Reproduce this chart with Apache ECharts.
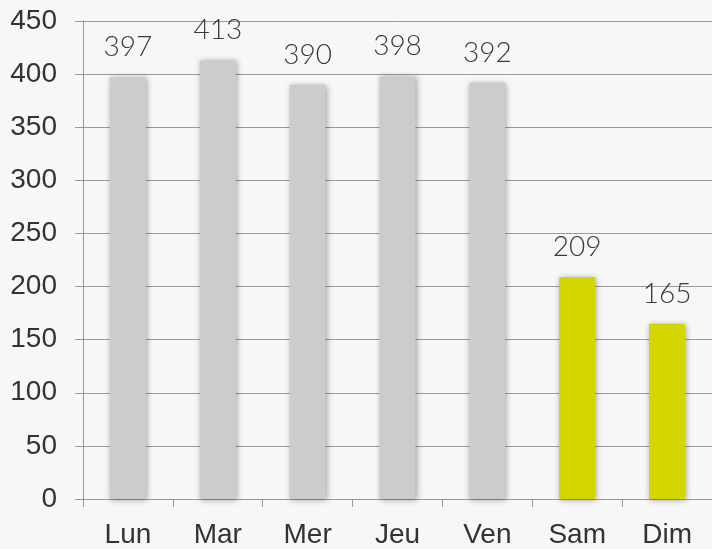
<!DOCTYPE html>
<html>
<head>
<meta charset="utf-8">
<script src="https://cdn.jsdelivr.net/npm/echarts@6/dist/echarts.min.js"></script>
<style>
  html, body { margin: 0; padding: 0; background: #f7f7f7; }
  #chart { width: 712px; height: 549px; }
</style>
</head>
<body>
<div id="chart"></div>
<script>
// Days of the week and their counts
const days = ['Lun', 'Mar', 'Mer', 'Jeu', 'Ven', 'Sam', 'Dim'];
const counts = [397, 413, 390, 398, 392, 209, 165];
const weekendDays = ['Sam', 'Dim'];

const weekdayColor = '#cccccc';
const weekendColor = '#d3d600';

const chart = echarts.init(document.getElementById('chart'));

const barData = days.map((d, i) => ({
  value: counts[i],
  itemStyle: { color: weekendDays.includes(d) ? weekendColor : weekdayColor }
}));

chart.setOption({
  backgroundColor: '#f7f7f7',
  animation: false,
  grid: { left: 83, right: -1, top: 21, bottom: 50, containLabel: false },
  xAxis: {
    type: 'category',
    data: days,
    axisLine: { show: true, lineStyle: { color: '#9a9a9a', width: 1 } },
    axisTick: { show: true, length: 8, lineStyle: { color: '#9a9a9a' } },
    axisLabel: {
      color: '#333333', fontFamily: 'Liberation Sans, Arial, sans-serif',
      fontSize: 28, margin: 22
    },
    splitLine: { show: false }
  },
  yAxis: {
    type: 'value',
    min: 0, max: 450, interval: 50,
    axisLine: { show: true, lineStyle: { color: '#9a9a9a', width: 1 } },
    axisTick: { show: true, length: 8, lineStyle: { color: '#9a9a9a' } },
    axisLabel: {
      color: '#333333', fontFamily: 'Liberation Sans, Arial, sans-serif',
      fontSize: 28, margin: 26
    },
    splitLine: { show: true, lineStyle: { color: '#9a9a9a', width: 1 } }
  },
  series: [{
    type: 'bar',
    data: barData,
    barWidth: 36,
    itemStyle: {
      shadowColor: 'rgba(0,0,0,0.35)',
      shadowBlur: 6,
      shadowOffsetX: 1,
      shadowOffsetY: 1
    },
    label: {
      show: true,
      position: 'top',
      distance: 16,
      color: '#3a3a3a',
      fontFamily: 'Lato, sans-serif',
      fontWeight: 300,
      fontSize: 28
    }
  }]
});
</script>
</body>
</html>
